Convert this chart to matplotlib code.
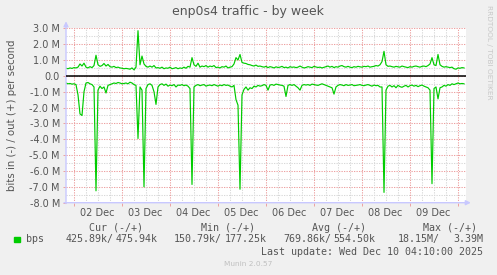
import numpy as np
import matplotlib
matplotlib.use("Agg")
import matplotlib.pyplot as plt

# ---------------- data (values in Mbit/s, hourly, starting Dec 1 ~20:15) -------------
out_vals = [
    0.48, 0.45, 0.50, 0.47, 0.52, 0.50,
    0.55, 0.75, 0.62, 0.80, 0.55,
    0.50, 0.58, 0.52, 0.65,
    1.30,
    0.70, 0.60, 0.65, 0.78, 0.62,
    0.72, 0.58, 0.55, 0.60, 0.52,
    0.55, 0.50, 0.48, 0.45, 0.47, 0.45, 0.42, 0.50,
    0.38, 0.55,
    2.85,
    0.70,
    1.25,
    0.75, 0.60, 0.55, 0.62, 0.55, 0.65, 0.50,
    0.52, 0.48, 0.55, 0.45, 0.50, 0.48, 0.55, 0.45, 0.48, 0.52,
    0.45, 0.50, 0.47, 0.55, 0.48, 0.60, 0.55,
    1.15,
    0.70, 0.60, 0.80, 0.55, 0.62, 0.58, 0.65,
    0.55, 0.62, 0.58, 0.65, 0.52, 0.55, 0.50, 0.58, 0.55, 0.62, 0.50, 0.55, 0.58,
    0.75, 1.15, 1.00, 1.35, 0.85,
    0.80, 0.78, 0.72, 0.70, 0.65, 0.62, 0.68, 0.60, 0.62, 0.58,
    0.55, 0.60, 0.52, 0.58, 0.55, 0.50, 0.57, 0.53, 0.55, 0.60,
    0.52, 0.55, 0.50, 0.58, 0.54, 0.56, 0.52, 0.55, 0.62, 0.55,
    0.50, 0.53, 0.58, 0.55, 0.52, 0.60, 0.56, 0.53, 0.55, 0.50,
    0.54, 0.58, 0.62, 0.55, 0.60, 0.52, 0.58, 0.55, 0.62, 0.65,
    0.58, 0.55, 0.60, 0.55, 0.52, 0.58, 0.55, 0.60, 0.57, 0.55,
    0.60, 0.58, 0.62, 0.55, 0.58, 0.60, 0.65, 0.62, 0.70,
    0.90,
    1.55,
    0.70, 0.60, 0.62, 0.58, 0.55, 0.60, 0.57, 0.55, 0.62, 0.58,
    0.55, 0.52, 0.58, 0.55, 0.60, 0.62, 0.58, 0.55, 0.60, 0.62,
    0.58, 0.65, 0.75,
    1.15, 0.70, 0.65, 1.35, 0.70,
    0.60, 0.55, 0.58, 0.55, 0.52, 0.55, 0.45, 0.42, 0.50, 0.48, 0.52, 0.50,
]

in_vals = [
    -0.45, -0.50, -0.48, -0.52, -0.50, -0.55,
    -1.20, -2.40, -2.50, -1.00,
    -0.45, -0.42, -0.50, -0.55, -0.70,
    -7.25,
    -0.90,
    -0.65, -0.80, -0.70, -1.08,
    -0.60, -0.55, -0.50, -0.45, -0.48, -0.42, -0.45, -0.50, -0.48, -0.45,
    -0.50, -0.40, -0.45, -0.55, -0.60,
    -3.95,
    -0.70, -0.90,
    -7.00,
    -0.80, -0.55, -0.50, -0.60,
    -1.00, -1.80, -0.70,
    -0.55, -0.50, -0.60, -0.52, -0.65, -0.58, -0.62, -0.55, -0.70, -0.58,
    -0.60, -0.55, -0.62, -0.58, -0.65,
    -0.80,
    -6.85,
    -0.70, -0.60, -0.55, -0.62, -0.58, -0.55, -0.65, -0.60, -0.58, -0.62,
    -0.55, -0.60, -0.65, -0.58, -0.62, -0.55, -0.60, -0.58, -0.65, -0.70, -0.60,
    -1.50, -1.85,
    -7.15,
    -1.20,
    -0.85, -0.70, -0.90, -0.75, -0.80, -0.65, -0.70, -0.60, -0.65, -0.62,
    -0.55, -0.60, -0.90, -0.58, -0.55, -0.60, -0.52, -0.55, -0.58, -0.60,
    -0.65,
    -1.30,
    -0.60, -0.55, -0.60, -0.55, -0.65, -0.75, -0.90,
    -0.60, -0.55, -0.58, -0.55, -0.60, -0.52, -0.55, -0.58, -0.60, -0.55,
    -0.50, -0.55, -0.60, -0.65, -0.70, -0.75,
    -1.15,
    -0.70,
    -0.60, -0.55, -0.58, -0.62, -0.55, -0.60, -0.58, -0.55, -0.62, -0.60,
    -0.58, -0.55, -0.60, -0.62, -0.58, -0.55, -0.60, -0.65, -0.58, -0.62,
    -0.60, -0.70,
    -0.70,
    -7.35,
    -0.90,
    -0.65, -0.60, -0.70, -0.62, -0.75, -0.60, -0.68, -0.72, -0.65, -0.60,
    -0.70, -0.62, -0.58, -0.65, -0.60, -0.68, -0.62, -0.58, -0.65, -0.70,
    -0.75, -0.90,
    -6.80,
    -0.80, -0.70, -1.45, -0.75,
    -0.70, -0.60, -0.65, -0.55, -0.60, -0.50, -0.55, -0.50, -0.45, -0.50, -0.48, -0.50,
]

day_labels = ["02 Dec", "03 Dec", "04 Dec", "05 Dec", "06 Dec", "07 Dec", "08 Dec", "09 Dec"]
ytick_values = [3, 2, 1, 0, -1, -2, -3, -4, -5, -6, -7, -8]
ytick_labels = ["3.0 M", "2.0 M", "1.0 M", "0.0", "-1.0 M", "-2.0 M", "-3.0 M",
                "-4.0 M", "-5.0 M", "-6.0 M", "-7.0 M", "-8.0 M"]

legend_headers = ["Cur (-/+)", "Min (-/+)", "Avg (-/+)", "Max (-/+)"]
legend_in = ["425.89k/", "150.79k/", "769.86k/", "18.15M/"]
legend_out = ["475.94k", "177.25k", "554.50k", "3.39M"]
series_name = "bps"

title = "enp0s4 traffic - by week"
ylabel = "bits in (-) / out (+) per second"
last_update = "Last update: Wed Dec 10 04:10:00 2025"
munin_ver = "Munin 2.0.57"
side_text = "RRDTOOL / TOBI OETIKER"

# ---------------- figure -------------
W, H = 497, 275
fig = plt.figure(figsize=(W / 100, H / 100), dpi=100, facecolor="#F0F0F0")

def fx(x):
    return x / W

def fy(y):
    return 1 - y / H

ax_l, ax_r, ax_t, ax_b = 66, 466, 28.3, 202.7
ax = fig.add_axes([fx(ax_l), fy(ax_b), (ax_r - ax_l) / W, (ax_b - ax_t) / H])
ax.set_facecolor("white")

total_h = 200.0
first_midnight = 3.75
ax.set_xlim(0, total_h)
ax.set_ylim(-8e6, 3e6)

minor_c = "#D8D8D8"
major_c = "#EDA0A0"
dot = (0, (1.2, 1.2))
# horizontal grid
for v in np.arange(-8, 3.01, 0.5):
    if abs(v - round(v)) < 1e-9:
        ax.axhline(v * 1e6, color=major_c, lw=0.75, ls=dot, zorder=1)
    else:
        ax.axhline(v * 1e6, color=minor_c, lw=0.75, ls=dot, zorder=1)
# vertical grid (6 h minor, 24 h major)
midnights = []
for i in range(-1, 40):
    tt = first_midnight + 6 * i
    if tt <= 0 or tt >= total_h:
        continue
    if i % 4 == 0:
        midnights.append(tt)
        ax.axvline(tt, color=major_c, lw=0.75, ls=dot, zorder=1)
    else:
        ax.axvline(tt, color=minor_c, lw=0.75, ls=dot, zorder=1)

hours = np.arange(len(out_vals))
green = "#00CC00"
ax.plot(hours, np.array(out_vals) * 1e6, color=green, lw=0.85, zorder=3)
ax.plot(np.arange(len(in_vals)), np.array(in_vals) * 1e6, color=green, lw=0.85, zorder=3)
ax.axhline(0, color="black", lw=1.1, zorder=4)

for s in ax.spines.values():
    s.set_visible(False)

txt_c = "#555555"
ax.set_yticks([v * 1e6 for v in ytick_values])
ax.set_yticklabels(ytick_labels)
noon_ticks = [first_midnight + 12 + 24 * i for i in range(len(day_labels))]
ax.set_xticks(noon_ticks)
ax.set_xticklabels(day_labels)
ax.set_xticks(midnights, minor=True)
ax.tick_params(axis="both", which="major", labelsize=7, colors=txt_c)
ax.tick_params(axis="y", which="major", length=2.2, width=0.7, color=major_c, pad=2.2)
ax.tick_params(axis="x", which="major", length=0, pad=3.5)
ax.tick_params(axis="x", which="minor", length=2.2, width=0.7, color=major_c)

# axes lines with arrows
axis_c = "#C8C8FF"
ax.annotate("", xy=(0, 1.04), xytext=(0, -0.005), xycoords="axes fraction",
            arrowprops=dict(arrowstyle="-|>", color=axis_c, lw=1.0, mutation_scale=7,
                            shrinkA=0, shrinkB=0), annotation_clip=False)
ax.annotate("", xy=(1.012, 0), xytext=(-0.005, 0), xycoords="axes fraction",
            arrowprops=dict(arrowstyle="-|>", color=axis_c, lw=1.0, mutation_scale=7,
                            shrinkA=0, shrinkB=0), annotation_clip=False)

# titles
fig.text(fx(248), fy(12), title, ha="center", va="center", fontsize=9, color=txt_c)
fig.text(fx(12), fy(115.5), ylabel, ha="center", va="center", rotation=90,
         fontsize=7.3, color=txt_c)
fig.text(fx(488.5), fy(5), side_text, ha="center", va="top", rotation=270,
         fontsize=5.3, color="#C8C8C8")

# legend
mono = "DejaVu Sans Mono"
fs = 7.2
header_x = [89, 201, 312, 423]
for hx, h in zip(header_x, legend_headers):
    fig.text(fx(hx), fy(227.7), h, ha="left", va="center", fontsize=fs,
             family=mono, color=txt_c)
fig.patches.append(plt.Rectangle((fx(14), fy(242.3)), 5.5 / W, 5.6 / H,
                                 transform=fig.transFigure, color=green, figure=fig))
fig.text(fx(26), fy(239.3), series_name, ha="left", va="center", fontsize=fs,
         family=mono, color=txt_c)
in_x = [66, 174, 283, 398]
out_right = [158, 267, 375, 483]
for ix, ox, a, b in zip(in_x, out_right, legend_in, legend_out):
    fig.text(fx(ix), fy(239.3), a, ha="left", va="center", fontsize=fs,
             family=mono, color=txt_c)
    fig.text(fx(ox), fy(239.3), b, ha="right", va="center", fontsize=fs,
             family=mono, color=txt_c)
fig.text(fx(483), fy(251.7), last_update, ha="right", va="center", fontsize=fs,
         family=mono, color=txt_c)
fig.text(fx(248), fy(263.5), munin_ver, ha="center", va="center", fontsize=5.3,
         color="#C0C0C0")

fig.savefig("out.png", dpi=100, facecolor=fig.get_facecolor())
